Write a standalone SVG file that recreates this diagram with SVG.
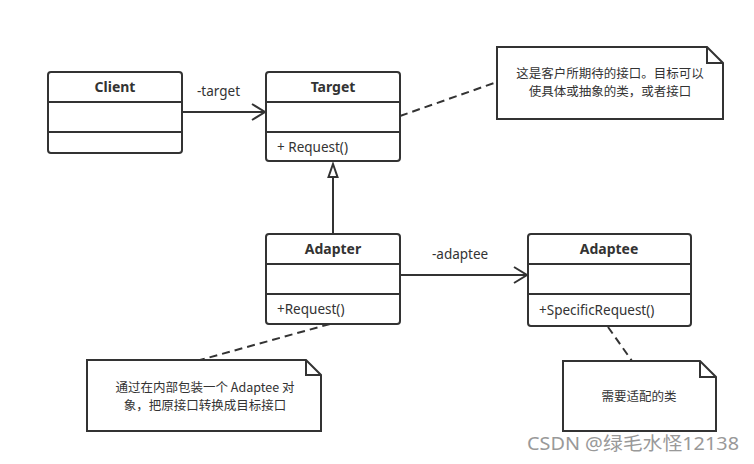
<svg xmlns="http://www.w3.org/2000/svg" width="754" height="464" viewBox="0 0 754 464">
<style>
.box{fill:#fff;stroke:#333;stroke-width:2}
.ln{stroke:#333;stroke-width:2;fill:none}
.dash{stroke:#333;stroke-width:2;fill:none;stroke-dasharray:8,5}
.t{font-family:"Noto Sans","Noto Sans CJK SC",sans-serif;font-size:13.5px;fill:#333}
.h{font-family:"Noto Sans","Noto Sans CJK SC",sans-serif;font-size:14px;font-weight:bold;fill:#333;text-anchor:middle}
.c{font-family:"Noto Sans CJK SC","Noto Sans",sans-serif;font-size:12.5px;fill:#333;text-anchor:middle}
</style>
<rect width="754" height="464" fill="#fff"/>
<g id="connectors">
<line class="ln" x1="182" y1="112" x2="264" y2="112"/>
<polyline class="ln" points="252,104 265,112 252,120"/>
<text class="t" x="197" y="96">-target</text>
<line class="ln" x1="333" y1="234" x2="333" y2="178"/>
<polygon points="333,164 337.5,177 328.5,177" fill="#fff" stroke="#333" stroke-width="2"/>
<line class="ln" x1="400" y1="275" x2="526" y2="275"/>
<polyline class="ln" points="514,267 527,275 514,283"/>
<text class="t" x="432" y="259">-adaptee</text>
<line class="dash" x1="400" y1="116" x2="497" y2="82"/>
<line class="dash" x1="330" y1="324" x2="200" y2="360"/>
<line class="dash" x1="608" y1="327" x2="632" y2="361"/>
</g>
<g id="client">
<rect class="box" x="48" y="72" width="134" height="81" rx="3"/>
<line class="ln" x1="48" y1="102" x2="182" y2="102"/>
<line class="ln" x1="48" y1="132" x2="182" y2="132"/>
<text class="h" x="115" y="92">Client</text>
</g>
<g id="target">
<rect class="box" x="266" y="72" width="134" height="89" rx="3"/>
<line class="ln" x1="266" y1="102" x2="400" y2="102"/>
<line class="ln" x1="266" y1="132" x2="400" y2="132"/>
<text class="h" x="333" y="92">Target</text>
<text class="t" x="277" y="152">+ Request()</text>
</g>
<g id="adapter">
<rect class="box" x="266" y="234" width="134" height="90" rx="3"/>
<line class="ln" x1="266" y1="264" x2="400" y2="264"/>
<line class="ln" x1="266" y1="294" x2="400" y2="294"/>
<text class="h" x="333" y="254">Adapter</text>
<text class="t" x="277" y="314">+Request()</text>
</g>
<g id="adaptee">
<rect class="box" x="528" y="234" width="163" height="92" rx="3"/>
<line class="ln" x1="528" y1="264" x2="691" y2="264"/>
<line class="ln" x1="528" y1="294" x2="691" y2="294"/>
<text class="h" x="609" y="254">Adaptee</text>
<text class="t" x="539" y="315">+SpecificRequest()</text>
</g>
<g id="note-target">
<path class="box" d="M497,47 H707 L723,63 V119 H497 Z"/>
<polyline class="ln" points="707,47 707,63 723,63"/>
<text class="c" x="610" y="78">这是客户所期待的接口。目标可以</text>
<text class="c" x="610" y="96">使具体或抽象的类，或者接口</text>
</g>
<g id="note-adapter">
<path class="box" d="M87,360 H306 L321,375 V431 H87 Z"/>
<polyline class="ln" points="306,360 306,375 321,375"/>
<text class="c" x="205" y="392">通过在内部包装一个 Adaptee 对</text>
<text class="c" x="205" y="410">象，把原接口转换成目标接口</text>
</g>
<g id="note-adaptee">
<path class="box" d="M563,361 H700 L716,377 V431 H563 Z"/>
<polyline class="ln" points="700,361 700,377 716,377"/>
<text class="c" x="639" y="401">需要适配的类</text>
</g>
<text x="527" y="450" font-family="Noto Sans,Noto Sans CJK SC,sans-serif" font-size="18.5" fill="#999" textLength="212" lengthAdjust="spacingAndGlyphs">CSDN @绿毛水怪12138</text>
</svg>
